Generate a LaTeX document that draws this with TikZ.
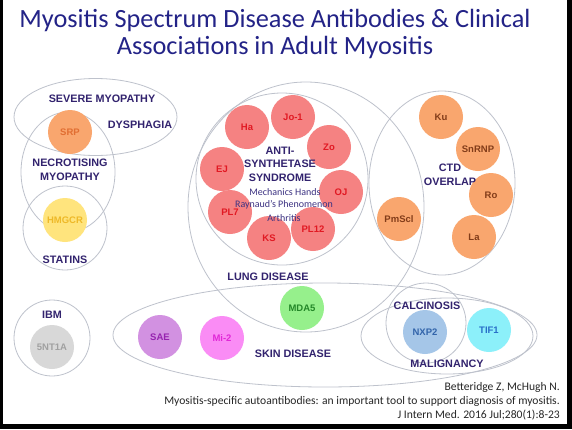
\documentclass[tikz,border=0pt]{standalone}
\usepackage{fontspec}
\setmainfont{Carlito}
\newfontfamily\arialf{Liberation Sans}
\definecolor{titleblue}{RGB}{35,35,135}
\definecolor{lab}{RGB}{50,35,110}
\definecolor{outl}{RGB}{190,194,204}
\definecolor{redfill}{RGB}{245,130,130}
\definecolor{redtext}{RGB}{225,25,35}
\definecolor{orfill}{RGB}{249,166,110}
\definecolor{ortext}{RGB}{130,60,25}
\definecolor{srptext}{RGB}{225,110,50}
\definecolor{yelfill}{RGB}{255,228,125}
\definecolor{yeltext}{RGB}{238,185,40}
\definecolor{grayfill}{RGB}{216,216,216}
\definecolor{graytext}{RGB}{160,160,160}
\definecolor{grnfill}{RGB}{150,240,140}
\definecolor{grntext}{RGB}{35,135,40}
\definecolor{purfill}{RGB}{210,145,225}
\definecolor{purtext}{RGB}{150,35,175}
\definecolor{pinkfill}{RGB}{250,140,245}
\definecolor{pinktext}{RGB}{225,40,215}
\definecolor{bluefill}{RGB}{165,198,232}
\definecolor{bluetext}{RGB}{50,100,170}
\definecolor{cyanfill}{RGB}{140,240,250}
\definecolor{cyantext}{RGB}{40,110,200}
\definecolor{smalltxt}{RGB}{60,50,130}
\tikzset{
  ring/.style={draw=outl, line width=0.8pt},
  ab/.style={circle, minimum size=44pt, inner sep=0pt, font=\arialf\bfseries\fontsize{9.5}{11}\selectfont},
  lbl/.style={text=lab, font=\arialf\bfseries\fontsize{10.8}{12.5}\selectfont, align=center, inner sep=0pt},
  sm/.style={text=smalltxt, font=\fontsize{10}{11}\selectfont, inner sep=0pt},
  cite/.style={text=black!85, font=\fontsize{11.6}{13}\selectfont, anchor=east, inner sep=0pt}
}
\begin{document}
\begin{tikzpicture}[x=1pt,y=-1pt]
\useasboundingbox (0,0) rectangle (572,429);
\fill[white] (0,0) rectangle (572,429);
% frame
\fill[black] (0,0) rectangle (3,429);
\fill[black] (567,0) rectangle (572,429);
\fill[black] (0,424) rectangle (572,429);
% title
\node[text=titleblue, font=\fontsize{26.3}{27.5}\selectfont, align=center, inner sep=0pt] (title) at (275,34)
  {Myositis Spectrum Disease Antibodies \& Clinical\\Associations in Adult Myositis};
% outlines
\draw[ring] (95.5,117) ellipse [x radius=81.5pt, y radius=38.5pt];
\draw[ring] (68,172) ellipse [x radius=47pt, y radius=60pt];
\draw[ring] (65,228) ellipse [x radius=42pt, y radius=42pt];
\draw[ring] (306,207) ellipse [x radius=118pt, y radius=125pt];
\draw[ring] (282,179) circle [radius=86pt];
\draw[ring] (442,183) ellipse [x radius=73pt, y radius=92pt];
\draw[ring] (52,338) circle [radius=38pt];
\draw[ring] (325,335) ellipse [x radius=212pt, y radius=52pt];
\draw[ring] (447,336) ellipse [x radius=86pt, y radius=38pt];
\draw[ring] (426,323) circle [radius=40pt];
% antibodies
\node[ab, fill=orfill, text=srptext] (srp) at (70,132) {SRP};
\node[ab, fill=yelfill, text=yeltext] (hmgcr) at (65,220) {HMGCR};
\node[ab, fill=redfill, text=redtext] (ha) at (247,127) {Ha};
\node[ab, fill=redfill, text=redtext] (jo1) at (293,117) {Jo-1};
\node[ab, fill=redfill, text=redtext] (zo) at (329,147) {Zo};
\node[ab, fill=redfill, text=redtext] (ej) at (222,169) {EJ};
\node[ab, fill=redfill, text=redtext] (oj) at (341,192) {OJ};
\node[ab, fill=redfill, text=redtext] (pl7) at (230,212) {PL7};
\node[ab, fill=redfill, text=redtext] (pl12) at (313,229) {PL12};
\node[ab, fill=redfill, text=redtext] (ks) at (269,238) {KS};
\node[ab, fill=orfill, text=ortext] (ku) at (441,117) {Ku};
\node[ab, fill=orfill, text=ortext] (snrnp) at (478,149) {SnRNP};
\node[ab, fill=orfill, text=ortext] (ro) at (491,195) {Ro};
\node[ab, fill=orfill, text=ortext] (la) at (474,237) {La};
\node[ab, fill=orfill, text=ortext] (pmscl) at (399,219) {PmScl};
\node[ab, fill=grayfill, text=graytext] (nt5) at (52,347) {5NT1A};
\node[ab, fill=grnfill, text=grntext] (mda5) at (302,308) {MDA5};
\node[ab, fill=purfill, text=purtext] (sae) at (160,337) {SAE};
\node[ab, fill=pinkfill, text=pinktext] (mi2) at (222,338) {Mi-2};
\node[ab, fill=bluefill, text=bluetext] (nxp2) at (425,332) {NXP2};
\node[ab, fill=cyanfill, text=cyantext] (tif1) at (489,330) {TIF1};
% labels
\node[lbl] (sev) at (102,99) {SEVERE MYOPATHY};
\node[lbl] (dys) at (140,125) {DYSPHAGIA};
\node[lbl] (nec) at (70,170) {NECROTISING\\[1pt]MYOPATHY};
\node[lbl] (stat) at (65,260) {STATINS};
\node[lbl] (as) at (280,164) {ANTI-\\[1pt]SYNTHETASE\\[1pt]SYNDROME};
\node[sm] (mh) at (285,192) {Mechanics Hands};
\node[sm] (rp) at (284,205) {Raynaud's Phenomenon};
\node[sm] (ar) at (284,218) {Arthritis};
\node[lbl] (lung) at (268,277) {LUNG DISEASE};
\node[lbl] (ctd) at (450,175) {CTD\\[1pt]OVERLAP};
\node[lbl] (ibm) at (52,315) {IBM};
\node[lbl] (skin) at (293,354) {SKIN DISEASE};
\node[lbl] (calc) at (427,306) {CALCINOSIS};
\node[lbl] (mal) at (447,364) {MALIGNANCY};
% citation
\node[cite] (c1) at (560,387) {Betteridge Z, McHugh N.};
\node[cite] (c2) at (560,401) {Myositis-specific autoantibodies: an important tool to support diagnosis of myositis.};
\node[cite] (c3) at (560,415) {J Intern Med. 2016 Jul;280(1):8-23};
\end{tikzpicture}
\end{document}
